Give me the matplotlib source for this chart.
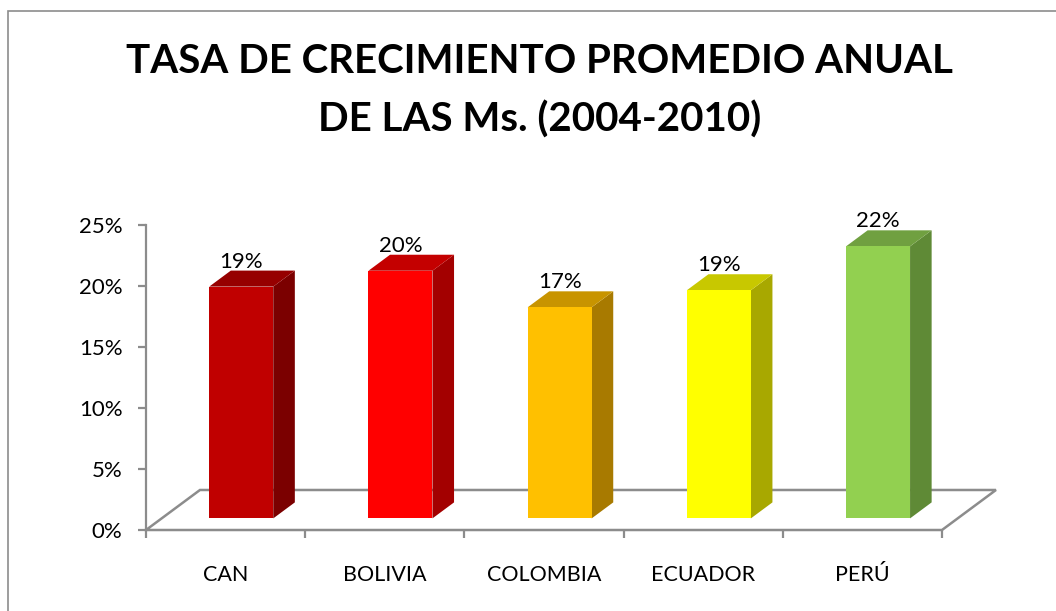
import matplotlib
matplotlib.use('Agg')
import matplotlib.pyplot as plt
from matplotlib.patches import Polygon, Rectangle
from matplotlib.ticker import FuncFormatter

plt.rcParams['font.family'] = ['Lato', 'DejaVu Sans']

categories = ['CAN', 'BOLIVIA', 'COLOMBIA', 'ECUADOR', 'PERÚ']
values = [19.0, 20.3, 17.3, 18.7, 22.3]
front_colors = ['#C00000', '#FF0000', '#FFC000', '#FFFF00', '#92D050']
side_colors = ['#7B0000', '#A30000', '#A87A00', '#A8A800', '#5F8A36']
top_colors = ['#960000', '#C40000', '#C89400', '#C8C800', '#70A040']
y_ticks = [0, 5, 10, 15, 20, 25]
title = 'TASA DE CRECIMIENTO PROMEDIO ANUAL\nDE LAS Ms. (2004-2010)'

# 3d look: depth vector of the floor in data units
depth_x, depth_y = 0.339, 3.28
f0, f1 = 0.29, 0.69   # bar front / back position inside the depth
half_w = 0.201
grey = '#8C8C8C'

fig = plt.figure(figsize=(10.56, 6.11), dpi=100)
fig.patches.append(Rectangle((8 / 1056, -0.1), 1.2, (611 - 11) / 611 + 0.1,
                             transform=fig.transFigure, fill=False,
                             edgecolor=grey, linewidth=1.2))

ax = fig.add_axes([146 / 1056, 81 / 611, 796 / 1056, 305 / 611])
n = len(categories)
ax.set_xlim(-0.5, n - 0.5)
ax.set_ylim(0, 25)
for s in ['top', 'right', 'bottom']:
    ax.spines[s].set_visible(False)
ax.spines['left'].set_color(grey)
ax.spines['left'].set_linewidth(1.6)

# floor outline
x0, x1 = -0.5, n - 0.5
floor = [(x0, 0), (x1, 0), (x1 + depth_x, depth_y), (x0 + depth_x, depth_y), (x0, 0)]
ax.plot([p[0] for p in floor], [p[1] for p in floor], color=grey, lw=1.8,
        clip_on=False, zorder=1, solid_joinstyle='miter')

for i, v in enumerate(values):
    cx = i + f0 * depth_x
    by = f0 * depth_y
    dx = (f1 - f0) * depth_x
    dy = (f1 - f0) * depth_y
    l, r = cx - half_w, cx + half_w
    front = [(l, by), (r, by), (r, by + v), (l, by + v)]
    side = [(r, by), (r + dx, by + dy), (r + dx, by + dy + v), (r, by + v)]
    top = [(l, by + v), (r, by + v), (r + dx, by + dy + v), (l + dx, by + dy + v)]
    ax.add_patch(Polygon(side, closed=True, facecolor=side_colors[i], edgecolor='none', zorder=3))
    ax.add_patch(Polygon(top, closed=True, facecolor=top_colors[i], edgecolor='none', zorder=3))
    ax.add_patch(Polygon(front, closed=True, facecolor=front_colors[i], edgecolor='none', zorder=4))
    ax.text(cx, by + dy + v + 0.25, '{:.0f}%'.format(v), ha='center', va='baseline',
            fontsize=16, color='black', zorder=5)

ax.set_yticks(y_ticks)
ax.yaxis.set_major_formatter(FuncFormatter(lambda t, p: '{:.0f}%'.format(t)))
ax.tick_params(axis='y', length=6, width=1.6, color=grey, labelsize=16, pad=11)

ax.set_xticks([k - 0.5 for k in range(n + 1)])
ax.set_xticklabels([])
ax.set_xticks(list(range(n)), minor=True)
ax.set_xticklabels(categories, minor=True)
ax.tick_params(axis='x', which='major', length=6, width=1.6, color=grey, direction='out')
ax.tick_params(axis='x', which='minor', length=0, labelsize=15.5, pad=25)
ax.xaxis.set_ticks_position('bottom')
ax.patch.set_visible(False)

fig.text(540 / 1056, 1 - 43 / 611, title, ha='center', va='top', fontsize=29,
         fontweight='bold', linespacing=1.68)

fig.savefig('out.png', dpi=100)
